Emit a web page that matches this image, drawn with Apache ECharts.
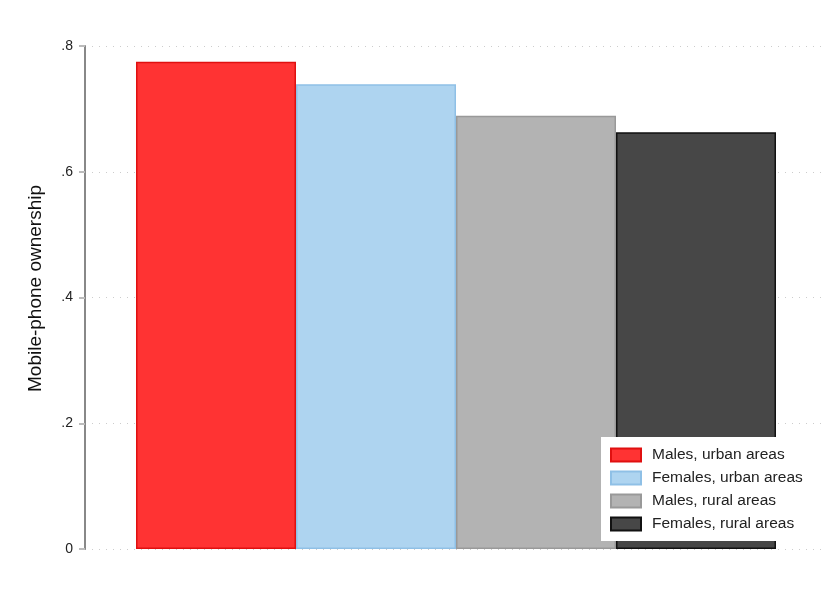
<!DOCTYPE html>
<html><head><meta charset="utf-8">
<script src="https://cdn.jsdelivr.net/npm/echarts@6/dist/echarts.min.js"></script>
<style>html,body{margin:0;padding:0;background:#fff}#c{width:839px;height:591px}</style>
</head><body><div id="c"></div>
<script>
const categories = ['All'];
const seriesNames = ['Males, urban areas', 'Females, urban areas', 'Males, rural areas', 'Females, rural areas'];
const seriesValues = [0.775, 0.739, 0.689, 0.663];
const yTicks = [0, 0.2, 0.4, 0.6, 0.8];
const tickLabels = ['0', '.2', '.4', '.6', '.8'];

const fills = ['#ff3333', '#aed4f0', '#b3b3b3', '#474747'];
const borders = ['#e01010', '#8fc0e6', '#999999', '#111111'];

const chart = echarts.init(document.getElementById('c'));
chart.setOption({
  animation: false,
  textStyle: { fontFamily: 'Liberation Sans, Arial, sans-serif' },
  grid: { left: 85, right: 12, top: 46, bottom: 42 },
  xAxis: {
    type: 'category', data: categories,
    axisLine: { show: false }, axisTick: { show: false }, axisLabel: { show: false }
  },
  yAxis: {
    type: 'value', min: 0, max: 0.8, interval: 0.2,
    name: 'Mobile-phone ownership', nameLocation: 'middle', nameGap: 40,
    nameTextStyle: { fontSize: 19, color: '#111', padding: [0, 0, 0, 18] },
    axisLine: { show: true, lineStyle: { color: '#888', width: 2 } },
    axisTick: { show: true, length: 6, lineStyle: { color: '#bbb', width: 2 } },
    axisLabel: { fontSize: 14, color: '#222', margin: 12,
      formatter: v => tickLabels[yTicks.findIndex(t => Math.abs(t - v) < 1e-9)] },
    splitLine: { show: true, lineStyle: { color: '#ccc', type: [1, 6], width: 1 } }
  },
  legend: {
    orient: 'vertical', left: 601, top: 437,
    backgroundColor: '#fff', padding: [10, 12, 9, 9],
    icon: 'rect',
    itemWidth: 30, itemHeight: 13, itemGap: 7,
    textStyle: { fontSize: 15.5, color: '#222', padding: [0, 0, 0, 6] },
    data: seriesNames
  },
  series: seriesNames.map((n, i) => ({
    name: n, type: 'bar', barWidth: 160, barGap: '0%',
    data: [seriesValues[i]],
    itemStyle: { color: fills[i], borderColor: borders[i], borderWidth: 1.5 }
  }))
});
</script></body></html>
